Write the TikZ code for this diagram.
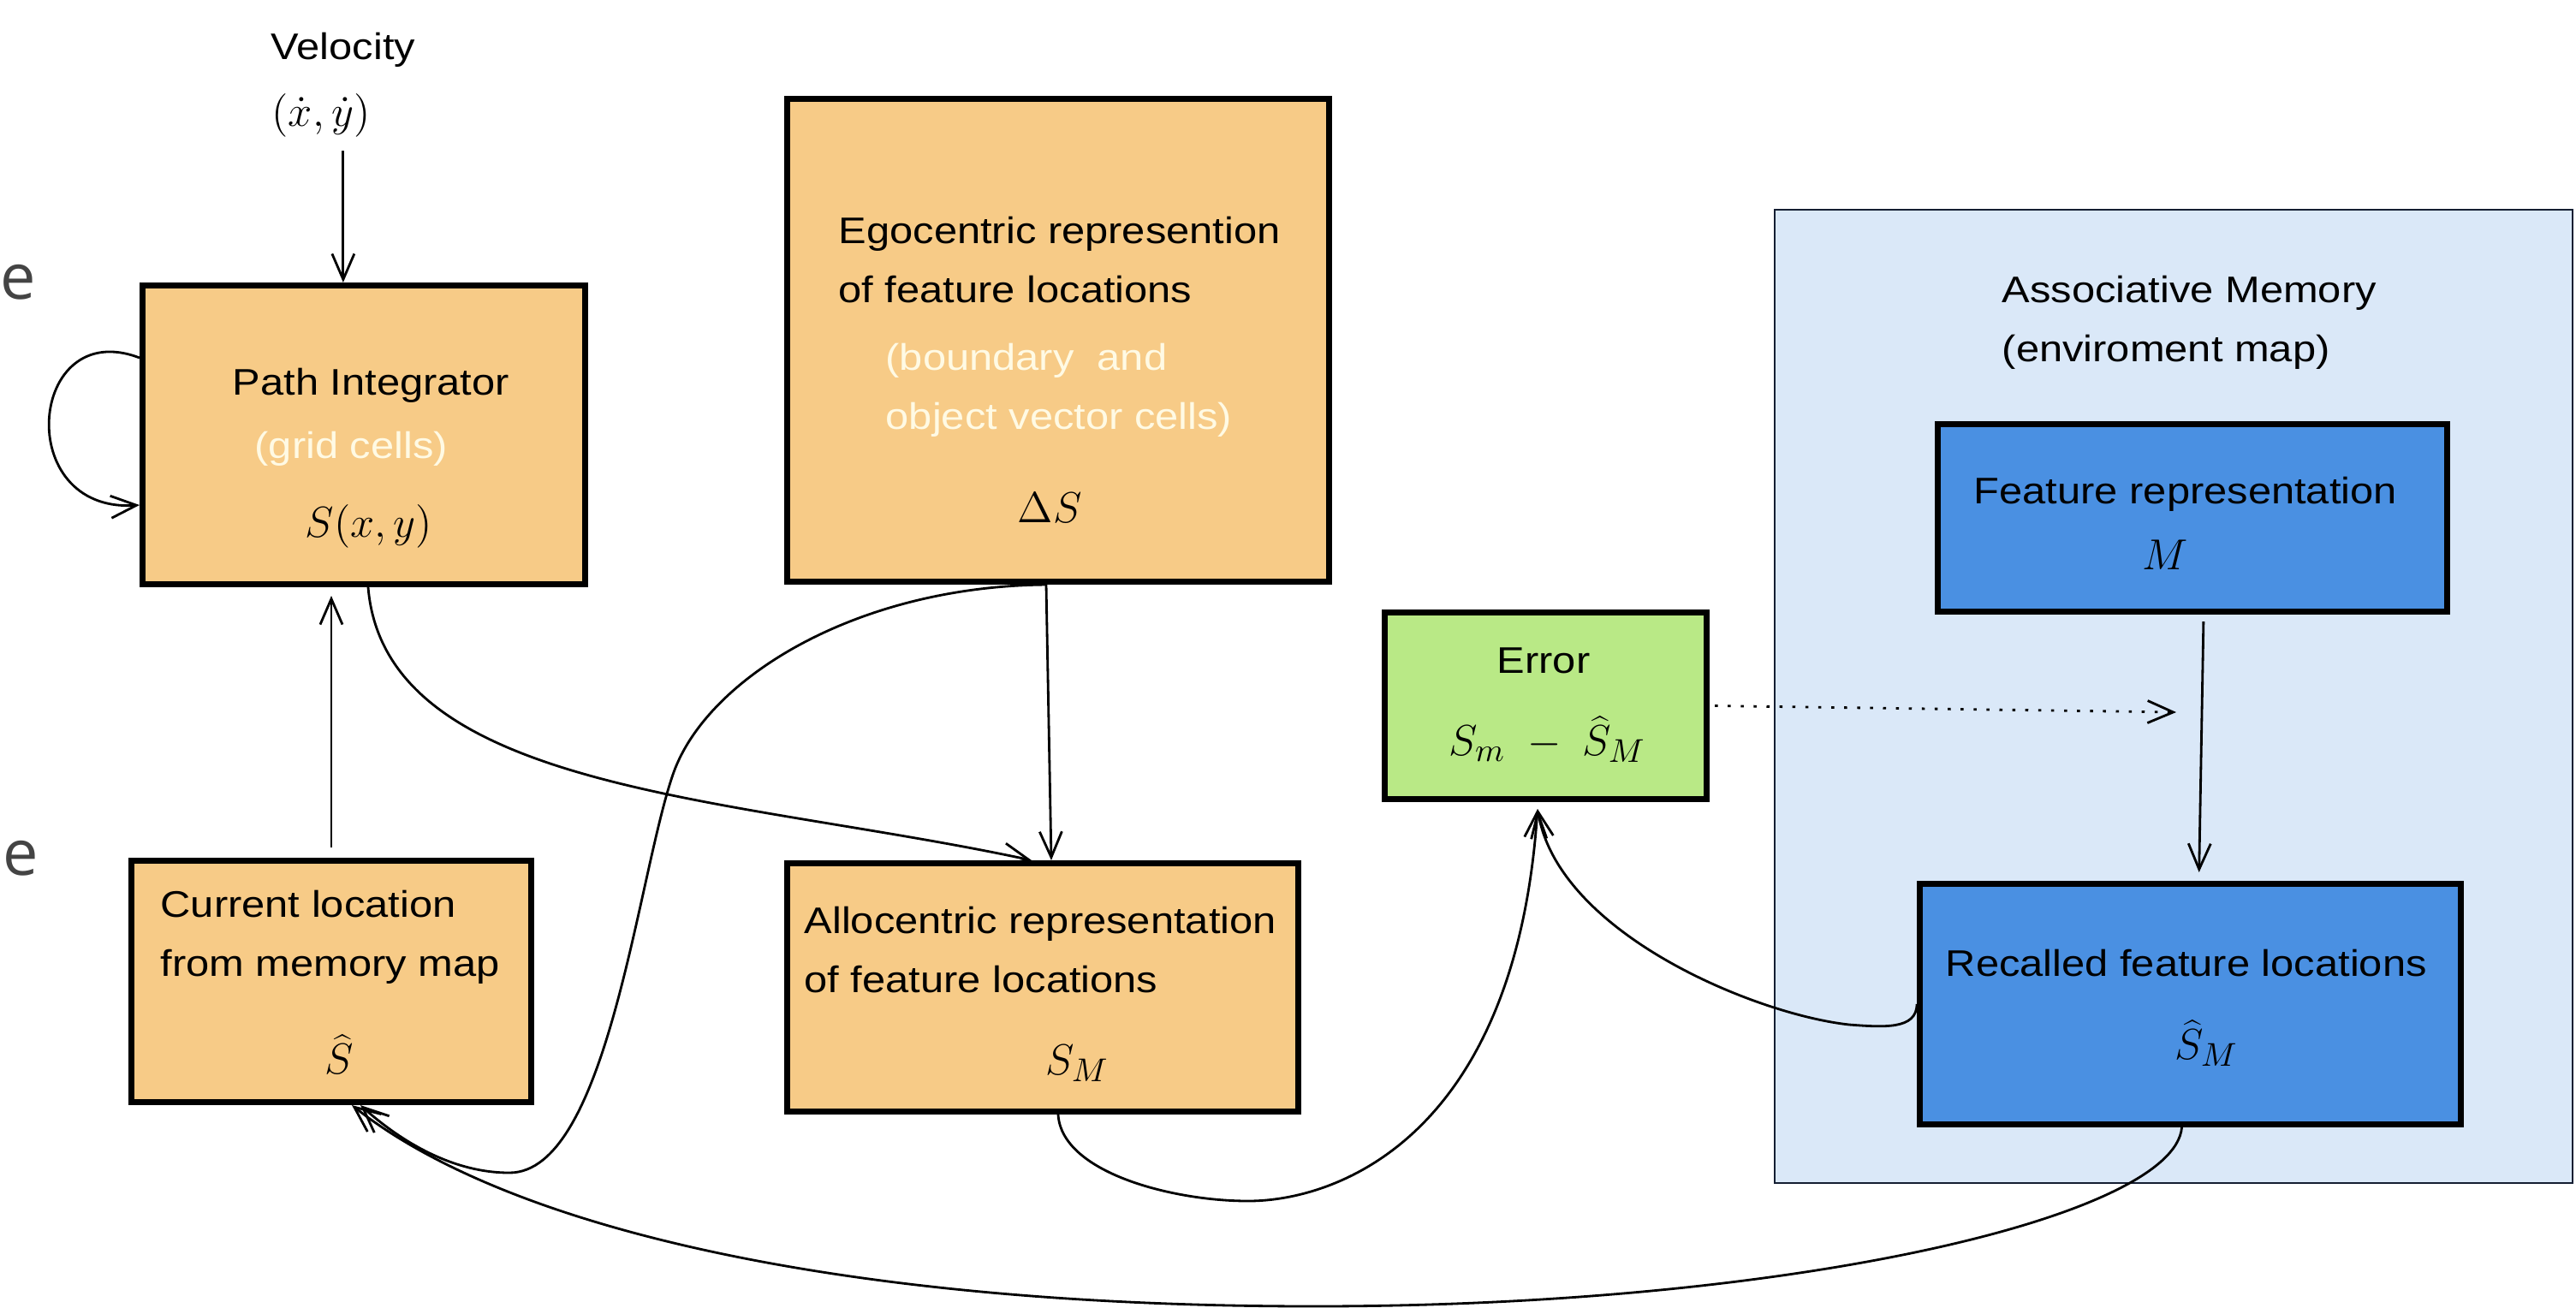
\documentclass[tikz,border=0pt]{standalone}
\usepackage[no-math]{fontspec}
\setmainfont{Liberation Sans}[FakeStretch=1.13]
\newfontfamily\cutfont{Open Sans}
\usetikzlibrary{arrows.meta}
\definecolor{pathorange}{RGB}{247,203,135}
\definecolor{memblue}{RGB}{74,144,226}
\definecolor{errgreen}{RGB}{185,233,134}
\definecolor{mapblue}{RGB}{218,232,248}
\definecolor{cellcream}{RGB}{255,250,228}
\definecolor{cutgray}{RGB}{68,68,68}
\newcommand{\mth}[1]{{\fontsize{15}{18}\selectfont$#1$}}
\tikzset{
  box/.style={draw=black, line width=2pt, inner sep=0pt},
  orangebox/.style={box, fill=pathorange},
  bluebox/.style={box, fill=memblue},
  greenbox/.style={box, fill=errgreen},
  lbl/.style={anchor=base west, inner sep=0pt, align=left, font=\fontsize{12.3}{19.6}\selectfont},
  cellnote/.style={lbl, text=cellcream},
  arr/.style={line width=0.8pt, -{Straight Barb[length=3mm,width=2.6mm]}},
}
\begin{document}
\begin{tikzpicture}
 \useasboundingbox (0,0) rectangle (30.09,-15.27);
 % cut-off letters at the left edge
 \node[anchor=base west, inner sep=0pt, text=cutgray, font=\cutfont\fontsize{21}{24}\selectfont] (cutA) at (0,-3.49) {e};
 \node[anchor=base west, inner sep=0pt, text=cutgray, font=\cutfont\fontsize{21}{24}\selectfont] (cutB) at (0.03,-10.22) {e};
 % boxes
 \node[draw={rgb,255:red,20;green,30;blue,50}, line width=0.8pt, fill=mapblue, minimum width=9.32cm, minimum height=11.37cm] (mem) at (25.39,-8.135) {};
 \node[orangebox, minimum width=5.17cm, minimum height=3.49cm] (PI) at (4.25,-5.08) {};
 \node[orangebox, minimum width=6.33cm, minimum height=5.64cm] (Ego) at (12.36,-3.975) {};
 \node[orangebox, minimum width=4.67cm, minimum height=2.82cm] (Cur) at (3.87,-11.465) {};
 \node[orangebox, minimum width=5.97cm, minimum height=2.90cm] (Allo) at (12.18,-11.535) {};
 \node[greenbox, minimum width=3.76cm, minimum height=2.18cm] (Err) at (18.055,-8.245) {};
 \node[bluebox, minimum width=5.95cm, minimum height=2.19cm] (Feat) at (25.61,-6.05) {};
 \node[bluebox, minimum width=6.32cm, minimum height=2.81cm] (Rec) at (25.585,-11.73) {};
 % texts (two-line labels sit on their last line)
 \node[lbl] (vel) at (3.16,-0.69) {Velocity};
 \node[lbl] (velxy) at (3.17,-1.47) {\mth{(\dot{x},\dot{y})}};
 \node[lbl] (PI-name) at (2.71,-4.61) {Path Integrator};
 \node[cellnote] (PI-cells) at (2.97,-5.35) {(grid cells)};
 \node[lbl] (PI-sym) at (3.56,-6.27) {\mth{S(x,y)}};
 \node[lbl] (Ego-name) at (9.79,-3.53) {Egocentric represention\\of feature locations};
 \node[cellnote] (Ego-cells) at (10.34,-5.01) {(boundary\ \ and\\object vector cells)};
 \node[lbl] (Ego-sym) at (11.88,-6.10) {\mth{\Delta S}};
 \node[lbl] (Cur-name) at (1.87,-11.40) {Current location\\from memory map};
 \node[lbl] (Cur-sym) at (3.79,-12.54) {\mth{\widehat{S}}};
 \node[lbl] (Allo-name) at (9.39,-11.59) {Allocentric representation\\of feature locations};
 \node[lbl] (Allo-sym) at (12.21,-12.55) {\mth{S_M}};
 \node[lbl] (Err-name) at (17.48,-7.86) {Error};
 \node[lbl] (Err-sym) at (16.92,-8.82) {\mth{S_m\;-\;\widehat{S}_M}};
 \node[lbl] (mem-name) at (23.38,-4.22) {Associative Memory\\(enviroment map)};
 \node[lbl] (Feat-name) at (23.05,-5.88) {Feature representation};
 \node[lbl] (Feat-sym) at (25.02,-6.65) {\mth{M}};
 \node[lbl] (Rec-name) at (22.72,-11.40) {Recalled feature locations};
 \node[lbl] (Rec-sym) at (25.40,-12.37) {\mth{\widehat{S}_M}};
 % connectors
 \draw[arr, shorten <=1.6mm] (vel.south |- velxy.south) -- (vel.south |- PI.north);
 \draw[arr] ([yshift=9mm]PI.west) .. controls +(-1.3,0.5) and +(-1.5,-0.1) .. ([yshift=-8.2mm]PI.west);
 \draw[arr, shorten <=1.2mm, shorten >=1mm] (Cur.north) -- (Cur.north |- PI.south);
 \draw[arr] ([xshift=0.5mm]PI.south) .. controls +(0.2,-2.4) and +(-3.5,0.75) .. ([xshift=-1.3mm]Allo.north);
 \draw[arr] ([xshift=-1.4mm]Ego.south) -- ([xshift=1mm]Allo.north);
 \draw[arr] ([xshift=-1.4mm]Ego.south) .. controls (10.00,-6.85) and (8.27,-7.92) .. (7.87,-9.02)
   .. controls (7.45,-10.20) and (7.10,-13.70) .. (5.95,-13.70)
   .. controls (5.30,-13.70) and (4.70,-13.35) .. ([xshift=3.4mm]Cur.south);
 \draw[arr] ([xshift=1.8mm]Allo.south) .. controls (12.40,-13.70) and (13.70,-14.03) .. (14.58,-14.03)
   .. controls (15.60,-14.03) and (17.70,-13.30) .. ([xshift=-0.95mm,yshift=-0.8mm]Err.south);
 \draw[arr] (Rec.west) .. controls +(0,-0.30) and +(0.40,-0.03) .. (21.60,-11.97)
   .. controls (20.50,-11.85) and (18.20,-10.90) .. ([xshift=-0.95mm,yshift=-0.8mm]Err.south);
 \draw[arr] ([xshift=-1mm]Rec.south) .. controls (25.40,-14.20) and (21.00,-15.26) .. (15.35,-15.26)
   .. controls (10.00,-15.26) and (6.00,-14.40) .. ([xshift=2.4mm]Cur.south);
 \draw[arr, shorten <=0.8mm, shorten >=1mm] ([xshift=1.3mm]Feat.south) -- ([xshift=1mm]Rec.north);
 \coordinate (memtap) at (25.42,-8.32);
 \draw[arr, dash pattern=on 1pt off 3.3pt] ([xshift=0.6mm]Err.east) -- (memtap);
\end{tikzpicture}
\end{document}
